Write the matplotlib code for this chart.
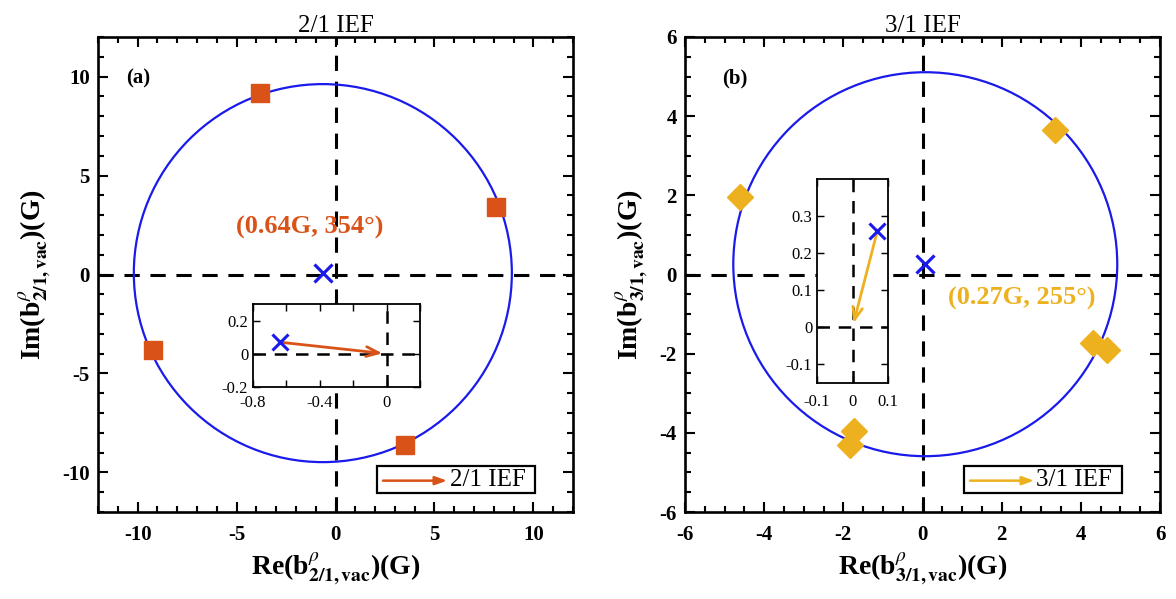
"""Vacuum field phasors of the 2/1 and 3/1 IEF components."""
import numpy as np
import matplotlib
matplotlib.use("Agg")
import matplotlib.pyplot as plt
from matplotlib.patches import Circle, Rectangle
from matplotlib.ticker import MultipleLocator

plt.rcParams["font.family"] = ["Liberation Serif", "DejaVu Serif"]
plt.rcParams["mathtext.fontset"] = "stix"
plt.rcParams["axes.unicode_minus"] = False

c21 = "#D95319"
c31 = "#EDB120"
blue = "#1a1aeb"

# 2/1 coil measurements (G)
re21 = [-3.8, 8.1, -9.2, 3.5]
im21 = [9.15, 3.4, -3.8, -8.6]
mean21 = (-0.64, 0.07)
rad21 = 9.55
lab21 = "(0.64G, 354°)"

# 3/1 coil measurements (G)
re31 = [-4.6, 3.35, 4.3, 4.67, -1.72, -1.82]
im31 = [1.95, 3.65, -1.73, -1.91, -3.95, -4.3]
mean31 = (0.07, 0.26)
rad31 = 4.85
lab31 = "(0.27G, 255°)"

W, H = 1176, 599
fig = plt.figure(figsize=(W / 100, H / 100), dpi=100)


def px(l, t, r, b):
    return [l / W, 1 - b / H, (r - l) / W, (b - t) / H]


def style(ax, lw=1.9, major=7, minor=4):
    for s in ax.spines.values():
        s.set_linewidth(lw)
    ax.tick_params(which="both", direction="in", top=True, right=True, width=lw * 0.8)
    ax.tick_params(which="major", length=major)
    ax.tick_params(which="minor", length=minor)


def zero_lines(ax, lw=2.0):
    ax.axhline(0, color="k", ls=(0, (5, 3.5)), lw=lw, zorder=1)
    ax.axvline(0, color="k", ls=(0, (5, 3.5)), lw=lw, zorder=1)


def arrow(ax, start, color, lw=2.0):
    ax.annotate("", xy=(0, 0), xytext=start,
                arrowprops=dict(arrowstyle="->,head_length=0.9,head_width=0.35",
                                color=color, lw=lw, shrinkA=0, shrinkB=3), zorder=3)


def legend_box(ax, text, color):
    ax.add_patch(Rectangle((0.587, 0.04), 0.332, 0.057, transform=ax.transAxes,
                           facecolor="white", edgecolor="k", lw=1.6, zorder=6))
    ax.annotate("", xy=(0.735, 0.066), xytext=(0.6, 0.066), xycoords="axes fraction",
                arrowprops=dict(arrowstyle="-|>,head_length=0.7,head_width=0.25",
                                color=color, lw=1.8, shrinkA=0, shrinkB=0), zorder=7)
    ax.text(0.74, 0.068, text, transform=ax.transAxes, fontsize=18,
            va="center", ha="left", zorder=7)


def panel(rect, re, im, mean, rad, marker, color, msize, lim, major, minor,
          n, tag, tag_x, title, lab, lab_xy):
    ax = fig.add_axes(rect)
    ax.set_xlim(-lim, lim)
    ax.set_ylim(-lim, lim)
    zero_lines(ax, 2.2)
    ax.add_patch(Circle(mean, rad, fill=False, color=blue, lw=1.6, zorder=2))
    ax.plot(re, im, ls="none", marker=marker, ms=msize, color=color,
            markeredgecolor=color, zorder=3)
    ax.plot(*mean, marker="x", ms=13, mew=2.3, color=blue, zorder=4)
    ax.xaxis.set_major_locator(MultipleLocator(major))
    ax.yaxis.set_major_locator(MultipleLocator(major))
    ax.xaxis.set_minor_locator(MultipleLocator(minor))
    ax.yaxis.set_minor_locator(MultipleLocator(minor))
    style(ax)
    ax.tick_params(axis="x", pad=9)
    ax.tick_params(axis="y", pad=6)
    for t in ax.get_xticklabels() + ax.get_yticklabels():
        t.set_fontweight("bold")
        t.set_fontsize(15)
    ax.set_title(title, fontsize=18, pad=1)
    ax.set_xlabel(r"Re(b$^{\rho}_{\mathbf{%s,vac}}$)(G)" % n, fontsize=20,
                  fontweight="bold", labelpad=4)
    ax.set_ylabel(r"Im(b$^{\rho}_{\mathbf{%s,vac}}$)(G)" % n, fontsize=20,
                  fontweight="bold", labelpad=6)
    ax.text(tag_x, 0.912, tag, transform=ax.transAxes, fontsize=15,
            fontweight="bold", ha="center", va="center")
    ax.text(*lab_xy, lab, color=color, fontsize=19, fontweight="bold",
            ha="center", va="center", zorder=5)
    legend_box(ax, title, color)
    return ax


ax1 = panel(px(98, 37, 573, 512), re21, im21, mean21, rad21, "s", c21, 13,
            12, 5, 1, "2/1", "(a)", 0.084, "2/1 IEF", lab21, (-1.3, 2.4))
ax2 = panel(px(685, 37, 1160, 512), re31, im31, mean31, rad31, "D", c31, 13,
            6, 2, 0.5, "3/1", "(b)", 0.105, "3/1 IEF", lab31, (2.5, -0.6))

# inset: 2/1 mean phasor
ins1 = fig.add_axes(px(253, 304, 420, 387))
ins1.set_xlim(-0.8, 0.2)
ins1.set_ylim(-0.2, 0.3)
zero_lines(ins1, 1.8)
arrow(ins1, mean21, c21)
ins1.plot(*mean21, marker="x", ms=11, mew=2.2, color=blue, zorder=4)
ins1.xaxis.set_minor_locator(MultipleLocator(0.2))
ins1.set_xticks([-0.8, -0.4, 0])
ins1.set_xticklabels(["-0.8", "-0.4", "0"])
ins1.set_yticks([-0.2, 0, 0.2])
ins1.set_yticklabels(["-0.2", "0", "0.2"])
style(ins1, lw=1.3, major=5, minor=5)
ins1.tick_params(labelsize=12)
ins1.tick_params(axis="x", pad=6)

# inset: 3/1 mean phasor
ins2 = fig.add_axes(px(817, 179, 888, 383))
ins2.set_xlim(-0.1, 0.1)
ins2.set_ylim(-0.15, 0.4)
zero_lines(ins2, 1.8)
arrow(ins2, mean31, c31)
ins2.plot(*mean31, marker="x", ms=11, mew=2.2, color=blue, zorder=4)
ins2.set_xticks([-0.1, 0, 0.1])
ins2.set_xticklabels(["-0.1", "0", "0.1"])
ins2.set_yticks([-0.1, 0, 0.1, 0.2, 0.3])
ins2.set_yticklabels(["-0.1", "0", "0.1", "0.2", "0.3"])
style(ins2, lw=1.3, major=5, minor=5)
ins2.tick_params(labelsize=12)
ins2.tick_params(axis="x", pad=8)

fig.savefig("out.png", dpi=100)
